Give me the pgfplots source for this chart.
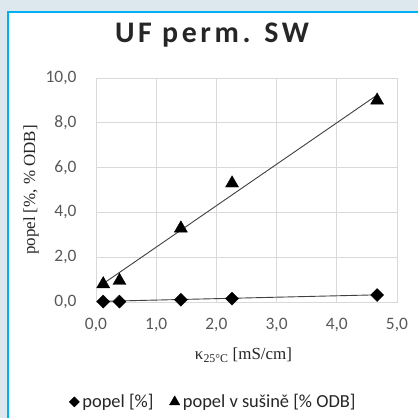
\documentclass[border=0pt]{standalone}
\usepackage{fontspec}
\setmainfont{Carlito}
\newfontfamily\serif{Liberation Serif}
\newfontfamily\titlefont[LetterSpace=12]{Carlito}
\usepackage{pgfplots}
\pgfplotsset{compat=1.18}
\definecolor{bgout}{HTML}{DDE8EE}
\definecolor{framec}{HTML}{00B0F0}
\definecolor{gridc}{HTML}{D9D9D9}
\definecolor{ticktxt}{HTML}{595959}
\definecolor{linec}{HTML}{404040}

\begin{document}
\begin{tikzpicture}
\useasboundingbox (0,0) rectangle (418bp,418bp);
\clip (0,0) rectangle (418bp,418bp);
\fill[bgout] (0,0) rectangle (418bp,418bp);
\filldraw[fill=white, draw=framec, line width=2bp] (8bp,-10bp) rectangle (440bp,406bp);
\node[font=\titlefont\bfseries\fontsize{30}{34}\selectfont, text=black!85, anchor=base] at (212bp,375bp) {UF perm. SW};
\begin{axis}[
  at={(96bp,116bp)}, anchor=south west,
  width=301bp, height=224bp, scale only axis,
  xmin=0, xmax=5, ymin=0, ymax=10,
  xtick={0,1,2,3,4,5}, ytick={0,2,4,6,8,10},
  grid=major, major grid style={gridc, line width=0.8bp},
  axis line style={gridc, line width=0.8bp},
  major tick length=0pt,
  /pgf/number format/fixed, /pgf/number format/fixed zerofill,
  /pgf/number format/precision=1, /pgf/number format/use comma,
  /pgf/number format/assume math mode=true,
  tick label style={font=\fontsize{17.5}{20}\selectfont, text=ticktxt},
  yticklabel style={xshift=-16bp},
  xticklabel style={yshift=-13bp},
  xlabel={\serif κ\textsubscript{25°C} [mS/cm]},
  ylabel={\serif popel [\%, \% ODB]},
  label style={font=\fontsize{17}{20}\selectfont, text=black!85},
  xlabel style={at={(axis description cs:0.49,-0.237)}, anchor=center},
  ylabel style={at={(axis description cs:-0.216,0.5)}, anchor=center},
  legend style={at={(axis description cs:0.39,-0.446)}, anchor=center,
    draw=none, fill=none, font=\fontsize{18.5}{21}\selectfont, text=black!85,
    legend columns=2,
    /tikz/every odd column/.append style={column sep=1bp},
    /tikz/every even column/.append style={column sep=14bp}},
]
% trend lines
\addplot[linec, line width=0.9bp, forget plot] coordinates {(0.12,0.82) (4.67,9.24)};
\addplot[linec, line width=0.9bp, forget plot] coordinates {(0.12,0.03) (4.67,0.32)};
% data
\addplot[only marks, mark=square*, mark size=4.6bp, black, mark options={rotate=45},
  legend image post style={mark size=3.6bp}]
  coordinates {(0.12,0.02) (0.39,0.02) (1.41,0.10) (2.26,0.15) (4.67,0.31)};
\addlegendentry{popel [\%]}
\addplot[only marks, mark=triangle*, mark size=7.5bp, black,
  legend image post style={mark size=6bp}]
  coordinates {(0.12,0.80) (0.39,0.95) (1.41,3.29) (2.26,5.30) (4.67,9.00)};
\addlegendentry{popel v sušině [\% ODB]}
\end{axis}
\end{tikzpicture}
\end{document}
